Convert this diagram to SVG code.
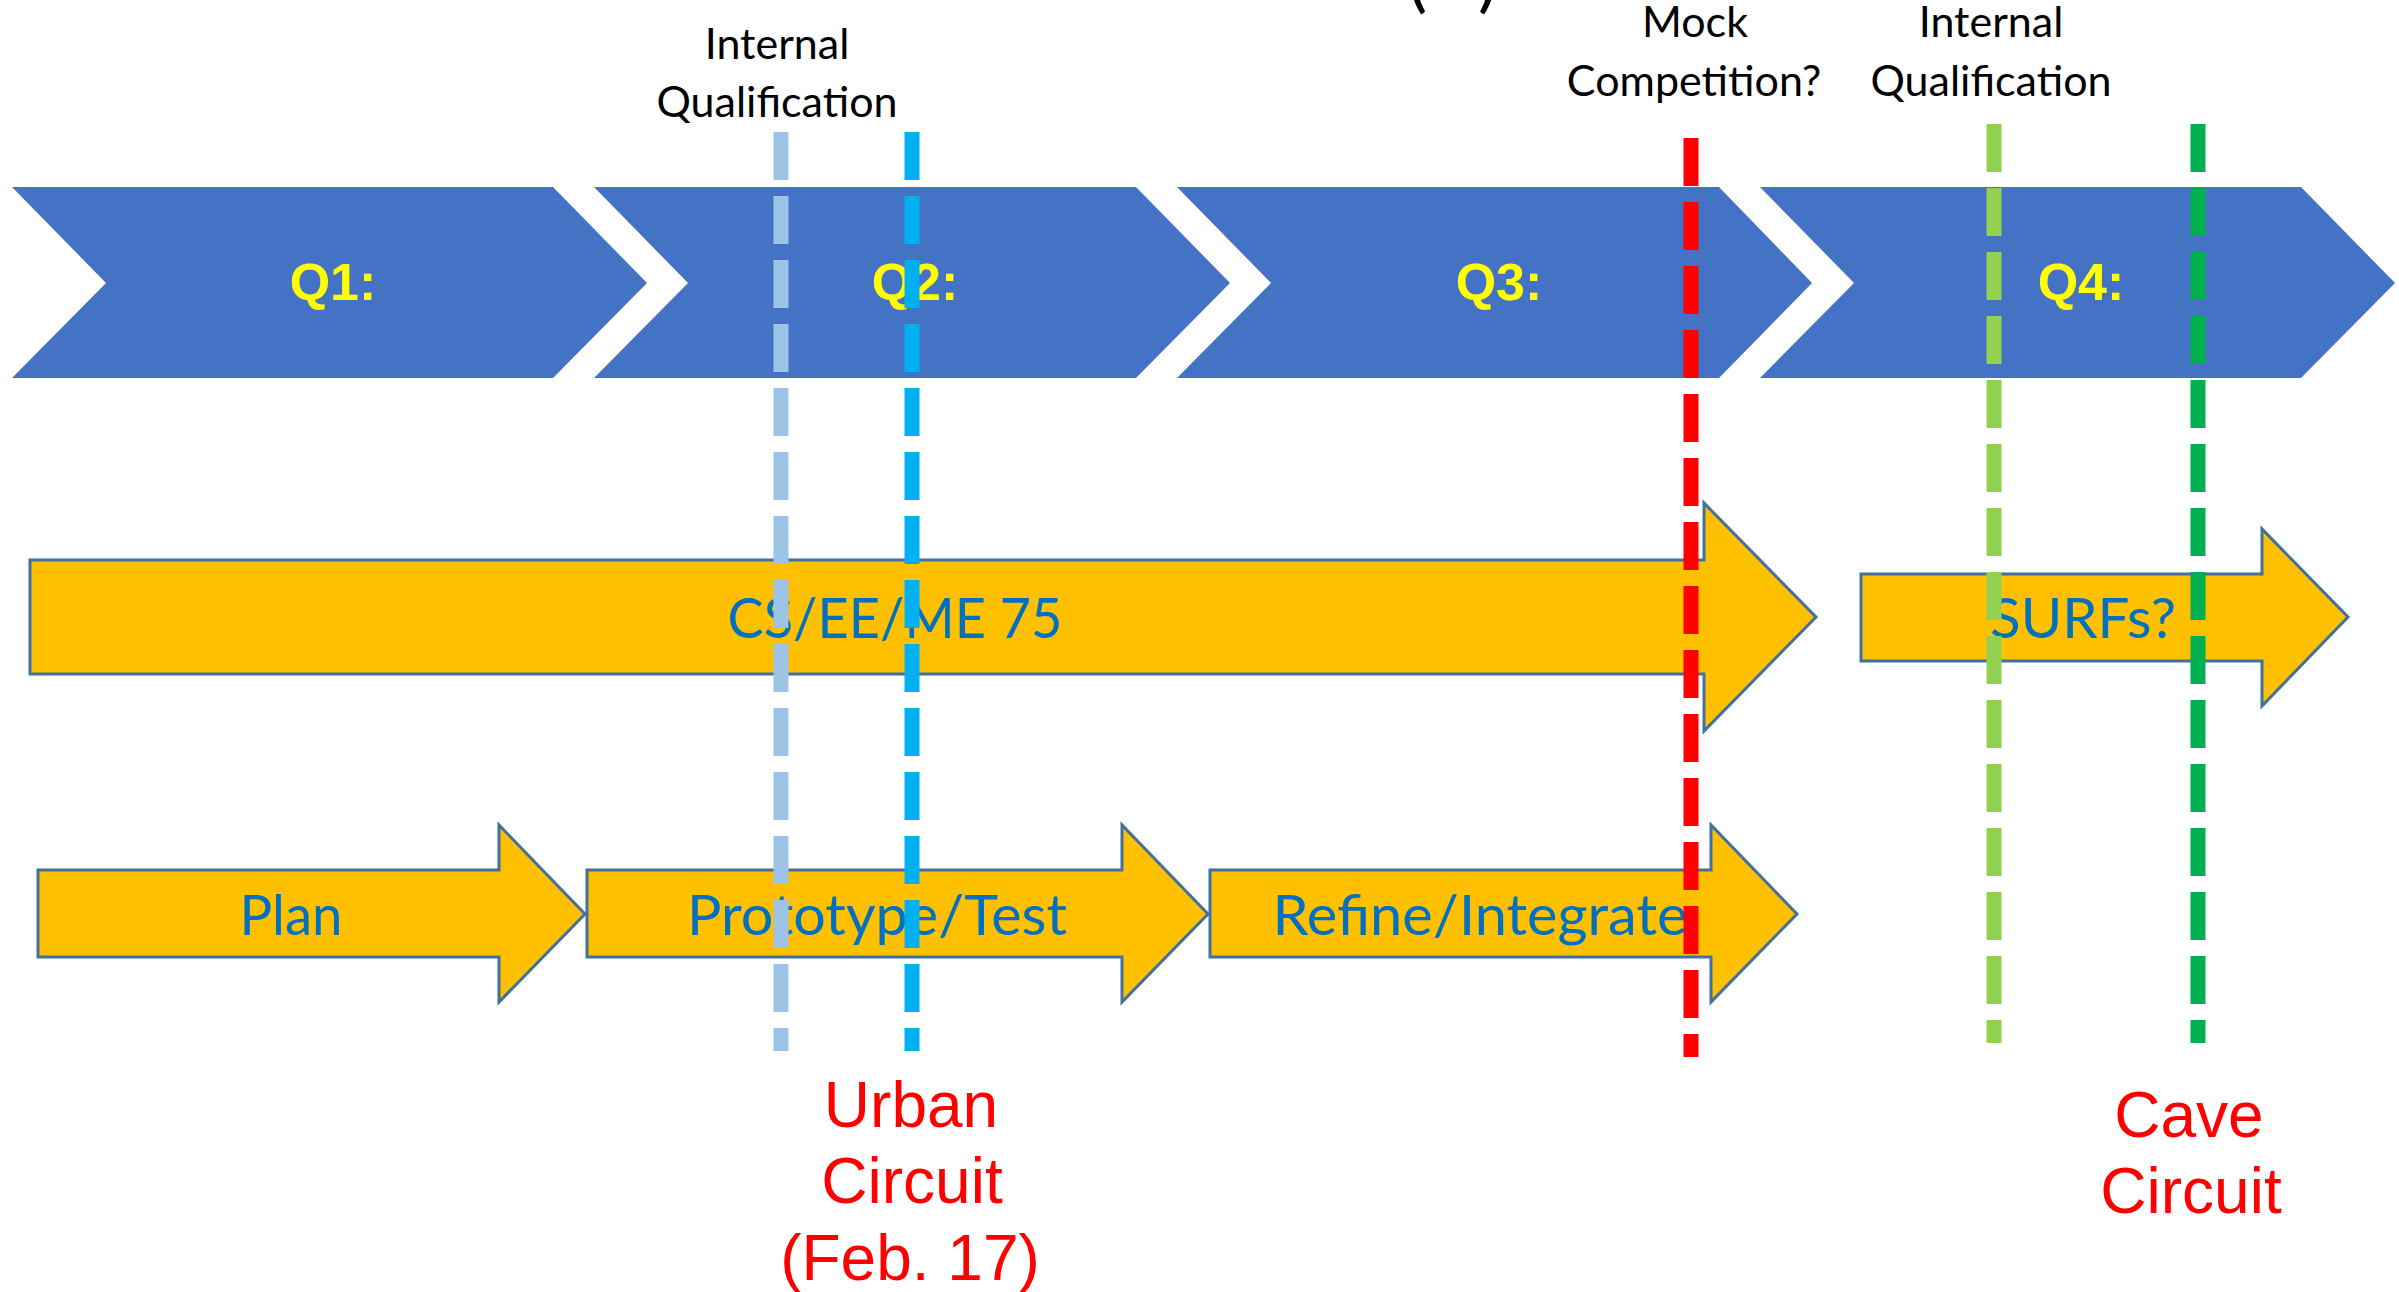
<svg xmlns="http://www.w3.org/2000/svg" width="2399" height="1292" viewBox="0 0 2399 1292">
<style>
.chev{fill:#4472C4}
.q{font-family:"Liberation Sans",Arial,sans-serif;font-weight:bold;font-size:52px;fill:#FFFF00;text-anchor:middle}
.arr{fill:#FFC000;stroke:#41719C;stroke-width:3}
.lbl{font-family:Lato,"Liberation Sans",sans-serif;font-size:56px;fill:#0070C0;text-anchor:middle}
.note{font-family:Lato,"Liberation Sans",sans-serif;font-size:43px;fill:#000000;text-anchor:middle}
.evt{font-family:"Liberation Sans",Arial,sans-serif;font-size:64px;fill:#FF0000;text-anchor:middle}
.dash{stroke-width:15;stroke-dasharray:48 16;fill:none}
</style>
<rect width="2399" height="1292" fill="#ffffff"/>
<text font-family="Lato,'Liberation Sans',sans-serif" font-size="72" fill="#000000" x="1408" y="4"><tspan x="1408">(</tspan><tspan x="1478">)</tspan></text>
<g id="q1"><polygon class="chev" points="12,187 553,187 647,283 553,378 12,378 106,283"/><text class="q" x="333" y="300">Q1:</text></g>
<g id="q2"><polygon class="chev" points="594,187 1136,187 1230,283 1136,378 594,378 688,283"/><text class="q" x="915" y="300">Q2:</text></g>
<g id="q3"><polygon class="chev" points="1177,187 1719,187 1812,283 1719,378 1177,378 1271,283"/><text class="q" x="1499" y="300">Q3:</text></g>
<g id="q4"><polygon class="chev" points="1760,187 2301,187 2395,283 2301,378 1760,378 1854,283"/><text class="q" x="2081" y="300">Q4:</text></g>
<g id="cs"><polygon class="arr" points="30,560 1704,560 1704,503 1816,617 1704,731 1704,674 30,674"/><text class="lbl" x="895" y="638" textLength="335" lengthAdjust="spacingAndGlyphs">CS/EE/ME 75</text></g>
<g id="surfs"><polygon class="arr" points="1861,574 2262,574 2262,529 2348,617 2262,706 2262,661 1861,661"/><text class="lbl" x="2083" y="638" textLength="186" lengthAdjust="spacingAndGlyphs">SURFs?</text></g>
<g id="plan"><polygon class="arr" points="38,870 499,870 499,825 585,914 499,1002 499,957 38,957"/><text class="lbl" x="291" y="935" textLength="103" lengthAdjust="spacingAndGlyphs">Plan</text></g>
<g id="proto"><polygon class="arr" points="587,870 1122,870 1122,825 1208,914 1122,1002 1122,957 587,957"/><text class="lbl" x="877" y="935" textLength="380" lengthAdjust="spacingAndGlyphs">Prototype/Test</text></g>
<g id="refine"><polygon class="arr" points="1210,870 1711,870 1711,825 1797,914 1711,1002 1711,957 1210,957"/><text class="lbl" x="1480" y="935" textLength="415" lengthAdjust="spacingAndGlyphs">Refine/Integrate</text></g>
<g id="notes">
<text class="note" x="777" y="59">Internal</text>
<text class="note" x="777" y="117">Qualification</text>
<text class="note" x="1695" y="37">Mock</text>
<text class="note" x="1694" y="96">Competition?</text>
<text class="note" x="1991" y="37">Internal</text>
<text class="note" x="1991" y="96">Qualification</text>
</g>
<g id="connectors">
<line class="dash" stroke="#9DC3E6" x1="781" y1="132" x2="781" y2="1051"/>
<line class="dash" stroke="#00B0F0" x1="912" y1="132" x2="912" y2="1051"/>
<line class="dash" stroke="#FF0000" x1="1691" y1="138" x2="1691" y2="1057"/>
<line class="dash" stroke="#92D050" x1="1994" y1="124" x2="1994" y2="1043"/>
<line class="dash" stroke="#00B050" x1="2198" y1="124" x2="2198" y2="1043"/>
</g>
<g id="urban">
<text class="evt" x="911" y="1127">Urban</text>
<text class="evt" x="912" y="1203">Circuit</text>
<text class="evt" x="910" y="1280">(Feb. 17)</text>
</g>
<g id="cave">
<text class="evt" x="2189" y="1137">Cave</text>
<text class="evt" x="2191" y="1213">Circuit</text>
</g>
</svg>
